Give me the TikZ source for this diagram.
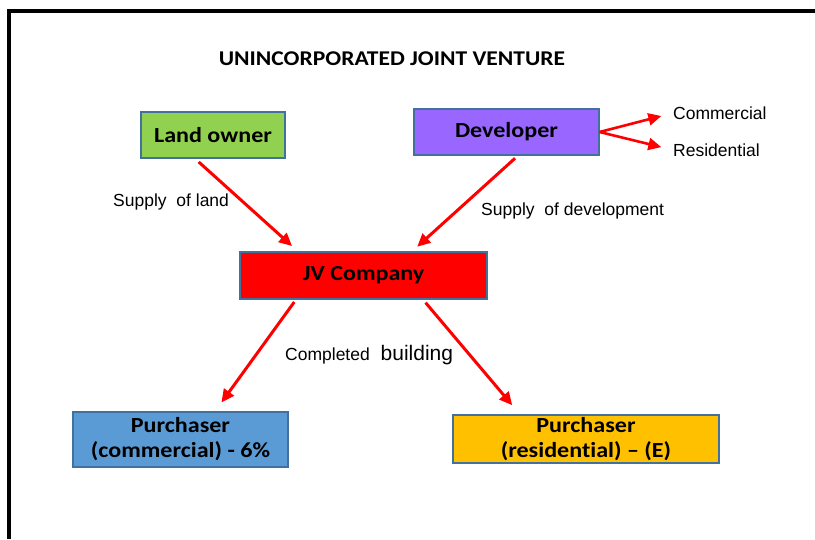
\documentclass[tikz,border=0pt]{standalone}
\usepackage{fontspec}
\setmainfont{Liberation Sans}
\newfontfamily\calibri[FakeStretch=1.12,Ligatures=NoCommon]{Carlito}
\usepackage{xcolor}
\usetikzlibrary{arrows.meta}
\definecolor{landgreen}{HTML}{92D050}
\definecolor{devpurple}{HTML}{9966FF}
\definecolor{comblue}{HTML}{5B9BD5}
\definecolor{resorange}{HTML}{FFC000}
\definecolor{boxline}{HTML}{41719C}
\begin{document}
\begin{tikzpicture}[x=1pt,y=-1pt,
	box/.style={draw=boxline, line width=1.2pt, inner sep=0pt, align=center,
		font=\calibri\bfseries\fontsize{21.5}{25}\selectfont},
	flow/.style={draw=red, line width=3pt, -{Triangle[length=13pt,width=12pt]}},
	lbl/.style={inner sep=0pt, font=\fontsize{17.5}{20}\selectfont}]
	\useasboundingbox (0,0) rectangle (815,539);
	% Frame
	\draw[line width=4pt] (9,539) -- (9,10.5) -- (815,10.5);
	% Title
	\node[font=\calibri\bfseries\fontsize{21}{25}\selectfont] (title) at (392,59) {UNINCORPORATED JOINT VENTURE};
	% Land owner and Developer
	\node[box, fill=landgreen, minimum width=144pt, minimum height=46pt] (lo) at (213,135) {Land owner};
	\node[box, fill=devpurple, minimum width=185pt, minimum height=46pt] (dev) at (506.5,132) {Developer};
	% Commercial / Residential
	\node[lbl, anchor=west] (com) at (673,113) {Commercial};
	\node[lbl, anchor=west] (res) at (673,150) {Residential};
	\draw[flow, line width=2.6pt, shorten >=12pt] (dev.east) -- (com.west);
	\draw[flow, line width=2.6pt, shorten >=12pt] (dev.east) -- (res.west);
	% JV Company
	\node[box, fill=red, minimum width=247pt, minimum height=47pt] (jv) at (363.5,275.5) {JV Company};
	% Supplies into the JV
	\node[lbl, anchor=west] (sland) at (113,202) {Supply~ of land};
	\node[lbl, anchor=west] (sdev) at (481,211) {Supply~ of development};
	\draw[flow, shorten <=5pt, shorten >=8pt] ([xshift=-18pt]lo.south) -- ([xshift=-65.5pt]jv.north);
	\draw[flow, shorten <=4pt, shorten >=7pt] ([xshift=11.5pt]dev.south) -- ([xshift=48.5pt]jv.north);
	% Purchasers
	\node[box, fill=comblue, minimum width=215pt, minimum height=55pt] (pcom) at (180.5,439.5) {Purchaser\\(commercial) - 6\%};
	\node[box, fill=resorange, minimum width=266pt, minimum height=48pt] (pres) at (586,439) {Purchaser\\(residential) \textendash{} (E)};
	\node[lbl, anchor=base west] (built) at (285,360) {Completed\hspace{6pt} \fontsize{21}{24}\selectfont building};
	\draw[flow, shorten <=3pt, shorten >=11pt] ([xshift=-67.5pt]jv.south) -- ([xshift=34.5pt]pcom.north);
	\draw[flow, shorten <=4pt, shorten >=12pt] ([xshift=59.5pt]jv.south) -- ([xshift=-66pt]pres.north);
\end{tikzpicture}
\end{document}
